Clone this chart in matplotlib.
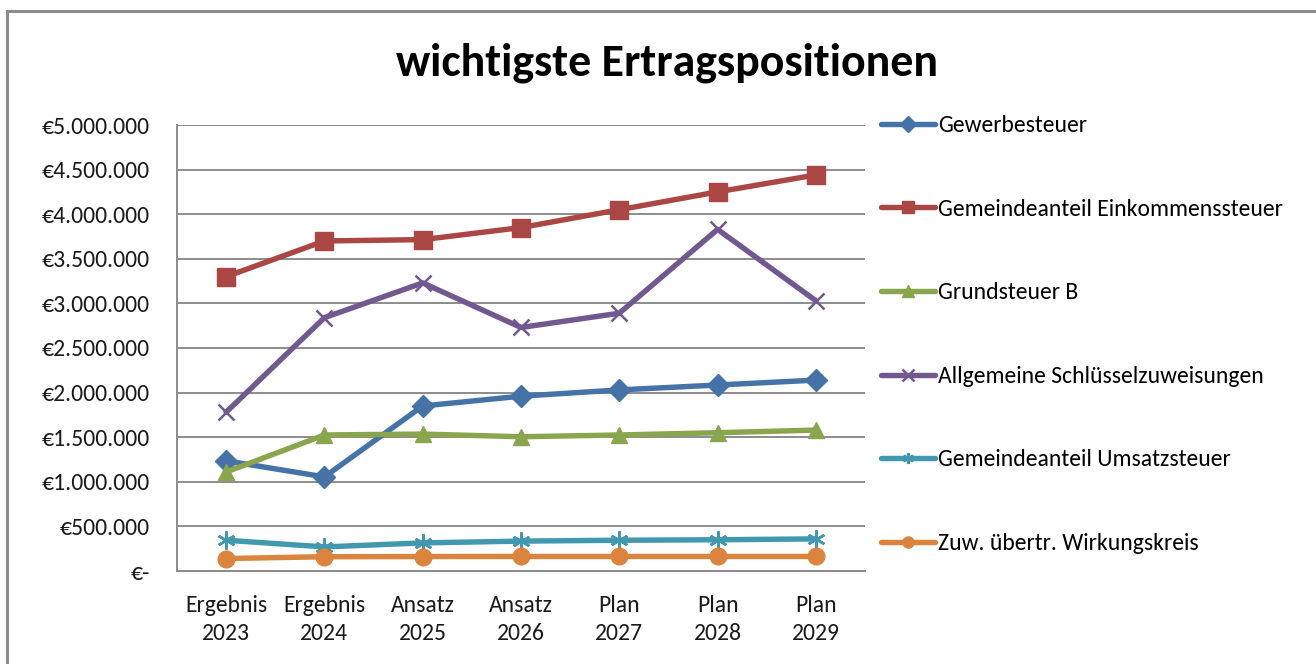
import matplotlib

matplotlib.use("Agg")
import matplotlib.pyplot as plt
from matplotlib.patches import Rectangle
from matplotlib.ticker import FuncFormatter

plt.rcParams["font.family"] = ["Carlito", "Liberation Sans Narrow", "Open Sans", "DejaVu Sans"]

# --------------------------------------------------------------------------- #
# Data (EUR)
# --------------------------------------------------------------------------- #
categories = ["Ergebnis\n2023", "Ergebnis\n2024", "Ansatz\n2025", "Ansatz\n2026",
              "Plan\n2027", "Plan\n2028", "Plan\n2029"]

gewerbesteuer = [1235000, 1055000, 1850000, 1960000, 2030000, 2085000, 2140000]
einkommensteuer = [3300000, 3700000, 3715000, 3850000, 4050000, 4250000, 4440000]
grundsteuer_b = [1110000, 1525000, 1535000, 1505000, 1525000, 1550000, 1580000]
schluesselzuweisungen = [1780000, 2840000, 3230000, 2730000, 2890000, 3830000, 3030000]
umsatzsteuer = [345000, 270000, 315000, 335000, 345000, 350000, 360000]
wirkungskreis = [140000, 160000, 162000, 163000, 163000, 163000, 163000]

y_ticks = [0, 500000, 1000000, 1500000, 2000000, 2500000, 3000000, 3500000,
           4000000, 4500000, 5000000]

STAR = (6, 2, 0)  # asterisk, close to the spreadsheet "star" marker
series = [
    ("Gewerbesteuer", gewerbesteuer, "#4572A7", "D", 11),
    ("Gemeindeanteil Einkommenssteuer", einkommensteuer, "#AA4643", "s", 13),
    ("Grundsteuer B", grundsteuer_b, "#89A54E", "^", 12),
    ("Allgemeine Schlüsselzuweisungen", schluesselzuweisungen, "#71588F", "x", 12),
    ("Gemeindeanteil Umsatzsteuer", umsatzsteuer, "#4198AF", STAR, 13),
    ("Zuw. übertr. Wirkungskreis", wirkungskreis, "#DB843D", "o", 12),
]
FS = 17


def euro(v, _pos=None):
    if v == 0:
        return "€-"
    return "€" + f"{int(v):,}".replace(",", ".")


fig = plt.figure(figsize=(13.16, 6.64), dpi=100)
ax = fig.add_axes([177 / 1316, 1 - 571 / 664, 688 / 1316, 446 / 664])

x = list(range(len(categories)))
for name, vals, color, marker, ms in series:
    line_marker = marker in ("x", STAR)
    ax.plot(x, vals, color=color, lw=3.9, marker=marker, ms=ms,
            mew=1.8 if line_marker else 1.0, mec=color, label=name,
            solid_capstyle="round")

ax.set_xlim(-0.5, len(categories) - 0.5)
ax.set_ylim(0, 5000000)
ax.set_yticks(y_ticks)
ax.yaxis.set_major_formatter(FuncFormatter(euro))
ax.set_xticks(x, categories)
ax.tick_params(axis="both", length=0, labelsize=FS, colors="#1a1a1a")
ax.tick_params(axis="y", pad=19.5)
ax.tick_params(axis="x", pad=17)
for lab in ax.get_xticklabels():
    lab.set_linespacing(1.42)
ax.grid(axis="y", color="#8c8c8c", lw=1.4)
ax.set_axisbelow(True)
for side in ("top", "right"):
    ax.spines[side].set_visible(False)
for side in ("left", "bottom"):
    ax.spines[side].set_color("#8c8c8c")
    ax.spines[side].set_linewidth(1.4)

fig.text(0.507, 0.906, "wichtigste Ertragspositionen", ha="center", va="center",
         fontsize=33, fontweight="bold")

leg = ax.legend(loc="upper left", bbox_to_anchor=(1.023, 1.022), frameon=False,
                fontsize=FS, labelspacing=2.65, handlelength=2.3,
                handletextpad=0.12, borderaxespad=0, borderpad=0)
for h in leg.legend_handles:
    h.set_markersize(8)

# outer chart frame
fig.patches.append(Rectangle((7 / 1316, -0.05), 1.1, 1 - 11 / 664 + 0.05,
                             transform=fig.transFigure, fill=False,
                             ec="#8c8c8c", lw=2.2))

fig.savefig("out.png", dpi=100)
